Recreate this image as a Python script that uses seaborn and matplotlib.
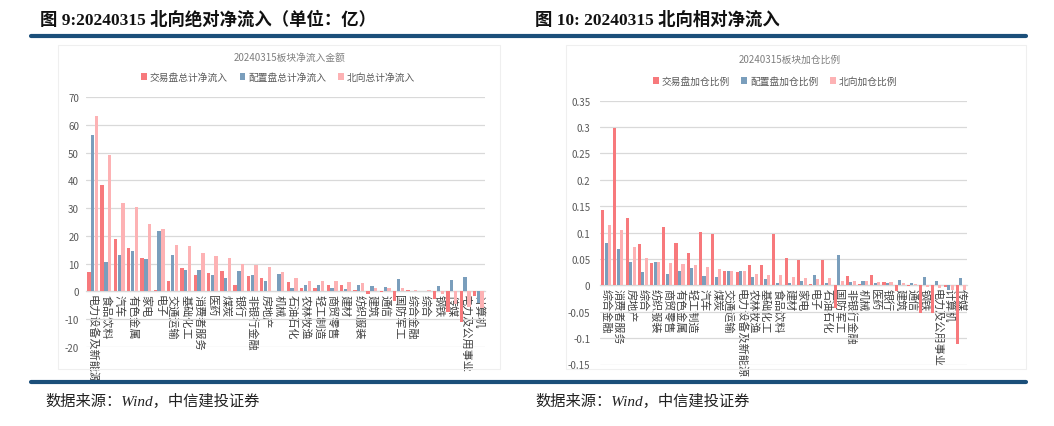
import matplotlib
matplotlib.use("Agg")
import matplotlib.pyplot as plt
import seaborn as sns
import pandas as pd
from matplotlib.patches import Rectangle
from matplotlib.lines import Line2D

# ---------------- data ----------------
cats_l = ['电力设备及新能源', '食品饮料', '汽车', '有色金属', '家电', '电子', '交通运输', '基础化工',
          '消费者服务', '医药', '煤炭', '银行', '非银行金融', '房地产', '机械', '石油石化', '农林牧渔',
          '轻工制造', '商贸零售', '建材', '纺织服装', '建筑', '通信', '国防军工', '综合金融', '综合',
          '钢铁', '传媒', '电力及公用事业', '计算机']
trade_l = [6.9, 38.3, 18.8, 15.5, 12.0, 0.5, 3.6, 8.4, 5.8, 6.5, 7.2, 2.5, 5.4, 4.8, 0.3, 3.5, 1.4,
           1.2, 2.4, 2.4, 0.4, -1.0, -0.2, -3.4, 0.35, 0.3, -2.7, -7.5, -11.0, -1.5]
alloc_l = [56.4, 10.5, 13.0, 14.5, 11.8, 21.7, 13.0, 7.6, 7.6, 6.0, 5.0, 7.3, 5.8, 3.6, 6.4, 1.1, 2.3,
           2.5, 1.1, 1.0, 2.4, 2.0, 1.5, 4.6, 0.1, 0.1, 1.9, 4.0, 5.3, -4.0]
total_l = [63.2, 49.0, 32.0, 30.3, 24.2, 22.4, 16.6, 16.2, 13.7, 12.6, 12.0, 10.0, 9.5, 8.8, 6.9, 5.0,
           3.7, 3.7, 3.7, 3.3, 2.9, 1.4, 1.2, 1.1, 0.6, 0.4, -0.8, -4.5, -5.7, -5.9]
series_l = ['交易盘总计净流入', '配置盘总计净流入', '北向总计净流入']
yticks_l = [-20, -10, 0, 10, 20, 30, 40, 50, 60, 70]

cats_r = ['综合金融', '消费者服务', '房地产', '综合', '纺织服装', '商贸零售', '有色金属', '轻工制造',
          '汽车', '煤炭', '交通运输', '电力设备及新能源', '农林牧渔', '基础化工', '食品饮料', '建材',
          '家电', '电子', '石油石化', '国防军工', '非银行金融', '机械', '医药', '银行', '建筑', '通信',
          '钢铁', '电力及公用事业', '计算机', '传媒']
trade_r = [0.142, 0.299, 0.128, 0.078, 0.042, 0.111, 0.081, 0.062, 0.102, 0.097, 0.028, 0.025, 0.038,
           0.039, 0.097, 0.052, 0.049, 0.002, 0.049, -0.042, 0.017, 0.002, 0.019, 0.006, -0.010,
           -0.002, -0.052, -0.052, -0.004, -0.111]
alloc_r = [0.081, 0.069, 0.044, 0.025, 0.045, 0.021, 0.027, 0.033, 0.018, 0.016, 0.028, 0.027, 0.016,
           0.013, 0.004, 0.004, 0.008, 0.019, 0.004, 0.058, 0.006, 0.009, 0.004, 0.004, 0.011, 0.004,
           0.015, 0.008, -0.008, 0.014]
total_r = [0.114, 0.104, 0.072, 0.052, 0.044, 0.042, 0.040, 0.038, 0.035, 0.031, 0.028, 0.027, 0.021,
           0.020, 0.020, 0.016, 0.014, 0.013, 0.014, 0.009, 0.009, 0.008, 0.006, 0.006, 0.004, 0.002,
           -0.004, -0.005, -0.008, -0.009]
series_r = ['交易盘加仓比例', '配置盘加仓比例', '北向加仓比例']
yticks_r = [-0.15, -0.1, -0.05, 0, 0.05, 0.1, 0.15, 0.2, 0.25, 0.3, 0.35]
ytick_labels_r = ['-0.15', '-0.1', '-0.05', '0', '0.05', '0.1', '0.15', '0.2', '0.25', '0.3', '0.35']

title_l = '图 9:20240315 北向绝对净流入（单位：亿）'
title_r = '图 10: 20240315 北向相对净流入'
sub_l = '20240315板块净流入金额'
sub_r = '20240315板块加仓比例'
source = '数据来源：Wind，中信建投证券'

colors = ['#F7797C', '#7A9EBC', '#FDB2B4']

# ---------------- style ----------------
sns.set_theme(style="white")
plt.rcParams['font.family'] = ['Noto Sans CJK SC', 'DejaVu Sans']
plt.rcParams['axes.unicode_minus'] = False
serif_cjk = ['Liberation Serif', 'Noto Sans CJK SC']

fig = plt.figure(figsize=(10.54, 4.27), dpi=100)
W, H = 1054, 427


def fx(px):
    return px / W


def fy(py):
    return 1 - py / H


# panel boxes (faint)
for x0, x1 in [(58, 500), (566, 1026)]:
    fig.patches.append(Rectangle((fx(x0), fy(370)), fx(x1 - x0), (370 - 46) / H,
                                 transform=fig.transFigure, fill=False,
                                 edgecolor='#EFEFEF', linewidth=0.8, zorder=0))

# rules
for yy in [37, 383]:
    fig.add_artist(Line2D([fx(31), fx(1026)], [fy(yy), fy(yy)], transform=fig.transFigure,
                          color='#1B4F7A', linewidth=3.0))

fig.text(fx(40), fy(20), title_l, fontsize=12.5, fontweight='bold', color='#111111',
         va='center', family=serif_cjk)
fig.text(fx(535), fy(20), title_r, fontsize=12.5, fontweight='bold', color='#111111',
         va='center', family=serif_cjk)
fig.text(fx(45), fy(401), source, fontsize=11, style='italic', color='#222222', va='center',
         family=serif_cjk)
fig.text(fx(535), fy(401), source, fontsize=11, style='italic', color='#222222', va='center',
         family=serif_cjk)

fig.text(fx(290), fy(58), sub_l, fontsize=7, color='#7F7F7F', ha='center', va='center')
fig.text(fx(790), fy(60), sub_r, fontsize=7, color='#7F7F7F', ha='center', va='center')


def draw(ax, cats, vals, series, yticks, ylabels, ylim, leg_xy, pad):
    df = pd.DataFrame({
        'cat': cats * 3,
        'val': vals[0] + vals[1] + vals[2],
        'series': [series[0]] * len(cats) + [series[1]] * len(cats) + [series[2]] * len(cats),
    })
    sns.barplot(data=df, x='cat', y='val', hue='series', order=cats, hue_order=series,
                palette=dict(zip(series, colors)), errorbar=None, width=0.86, gap=0.12,
                saturation=1, linewidth=0, ax=ax, zorder=3)
    ax.set_ylim(*ylim)
    ax.set_yticks(yticks)
    ax.set_yticklabels(ylabels)
    ax.grid(axis='y', color='#D9D9D9', linewidth=0.9, zorder=0)
    ax.set_axisbelow(True)
    for s in ['top', 'right', 'left']:
        ax.spines[s].set_visible(False)
    ax.spines['bottom'].set_position(('data', 0))
    ax.spines['bottom'].set_color('#D9D9D9')
    ax.spines['bottom'].set_linewidth(0.9)
    ax.set_xlabel('')
    ax.set_ylabel('')
    ax.tick_params(axis='y', length=0, labelsize=7, labelcolor='#595959', pad=pad)
    ax.tick_params(axis='x', length=0, labelsize=8, labelcolor='#404040', pad=2)
    for lab in ax.get_xticklabels():
        lab.set_rotation(-90)
        lab.set_ha('center')
        lab.set_va('top')
    sns.move_legend(ax, 'center', bbox_to_anchor=leg_xy, bbox_transform=fig.transFigure,
                    ncol=3, frameon=False, title=None, fontsize=7, handlelength=0.6,
                    handleheight=0.6, handletextpad=0.3, columnspacing=1.2)
    for t in ax.get_legend().get_texts():
        t.set_color('#595959')


ax1 = fig.add_axes([fx(86), fy(348), fx(485 - 86), (348 - 98) / H])
draw(ax1, cats_l, [trade_l, alloc_l, total_l], series_l, yticks_l,
     [str(v) for v in yticks_l], (-20, 70), (fx(278), fy(78)), 5)

ax2 = fig.add_axes([fx(600), fy(365.5), fx(967 - 600), (365.5 - 101.7) / H])
draw(ax2, cats_r, [trade_r, alloc_r, total_r], series_r, yticks_r,
     ytick_labels_r, (-0.15, 0.35), (fx(775), fy(82)), 7)

fig.savefig('out.png', dpi=100)
